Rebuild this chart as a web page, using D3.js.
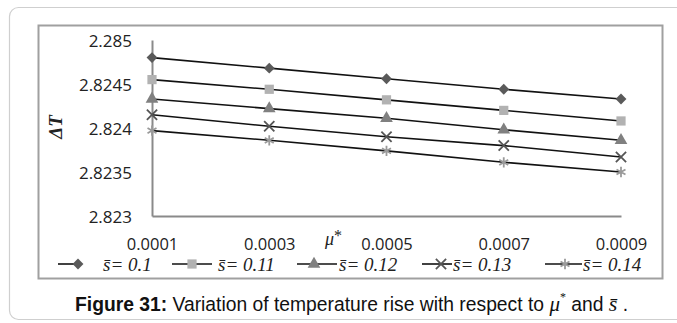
<!DOCTYPE html>
<html><head><meta charset="utf-8">
<script src="https://cdn.jsdelivr.net/npm/d3@7"></script>
<style>body{margin:0;background:#fff}svg{display:block}</style>
</head><body>
<svg id="c" width="677" height="323"></svg>
<script>
const categories = ["0.0001","0.0003","0.0005","0.0007","0.0009"];
const seriesNames = ["0.1","0.11","0.12","0.13","0.14"];
const s010 = [2.82480, 2.82468, 2.82456, 2.82444, 2.82433];
const s011 = [2.82455, 2.82444, 2.82432, 2.82420, 2.82408];
const s012 = [2.82433, 2.82422, 2.82411, 2.82398, 2.82386];
const s013 = [2.82415, 2.82402, 2.82390, 2.82380, 2.82367];
const s014 = [2.82397, 2.82386, 2.82374, 2.82361, 2.82350];
const yTicks = [2.823, 2.8235, 2.824, 2.8245, 2.825];
const yTickLabels = ["2.823","2.8235","2.824","2.8245","2.285"];

const seriesValues = [s010, s011, s012, s013, s014];
const markerStyles = [
  {type: d3.symbolDiamond2, size: 75, fill: "#5a5a5a", stroke: null},
  {type: d3.symbolSquare, size: 85, fill: "#b2b2b2", stroke: null},
  {type: d3.symbolTriangle, size: 70, fill: "#808080", stroke: null},
  {type: d3.symbolTimes, size: 70, fill: "none", stroke: "#555"},
  {type: d3.symbolAsterisk, size: 75, fill: "none", stroke: "#9a9a9a"}
];

const svg = d3.select("#c");
svg.append("rect").attr("x",9.5).attr("y",7.5).attr("width",720).attr("height",312)
  .attr("rx",9).attr("fill","none").attr("stroke","#cfcfcf").attr("stroke-width",1.2);
svg.append("rect").attr("x",38.5).attr("y",25.5).attr("width",624).attr("height",253)
  .attr("fill","#fff").attr("stroke","#a0a0a0").attr("stroke-width",2);

const x = d3.scalePoint().domain(categories).range([152, 621]);
const y = d3.scaleLinear().domain([2.823, 2.825]).range([216, 40]);

const yAxis = svg.append("g").attr("transform","translate(152,0)")
  .call(d3.axisLeft(y).tickValues(yTicks).tickFormat((d,i)=>yTickLabels[i]).tickSize(0).tickSizeOuter(0));
yAxis.select(".domain").attr("stroke","#8a8a8a").attr("stroke-width",2);
yAxis.selectAll("text").attr("x",-20).attr("dy","0.36em")
  .attr("font-family","'Open Sans', sans-serif").attr("font-size",17).attr("fill","#222");

const xAxis = svg.append("g").attr("transform","translate(0,216)")
  .call(d3.axisBottom(x).tickSize(0).tickSizeOuter(0));
xAxis.select(".domain").attr("stroke","#8a8a8a").attr("stroke-width",2);
xAxis.selectAll("text").attr("y",34).attr("dy",0)
  .attr("font-family","'Open Sans', sans-serif").attr("font-size",16.5).attr("fill","#222");

const line = d3.line().x((d,i)=>x(categories[i])).y(d=>y(d));
seriesValues.forEach((vals) => {
  svg.append("path").datum(vals).attr("d", line)
    .attr("fill","none").attr("stroke","#111").attr("stroke-width",1.6);
});
seriesValues.forEach((vals, k) => {
  const m = markerStyles[k];
  svg.append("g").selectAll("path").data(vals).join("path")
    .attr("transform",(d,i)=>`translate(${x(categories[i])},${y(d)})`)
    .attr("d", d3.symbol(m.type, m.size))
    .attr("fill", m.fill).attr("stroke", m.stroke).attr("stroke-width", m.stroke ? 1.8 : 0);
});

svg.append("text").attr("transform","translate(62,127) rotate(-90)").attr("text-anchor","middle")
  .attr("font-family","'Liberation Serif', serif").attr("font-style","italic").attr("font-weight","bold")
  .attr("font-size",19).attr("fill","#222").text("ΔT");
const mu = svg.append("text").attr("x",325).attr("y",245)
  .attr("font-family","'Liberation Serif', serif").attr("font-style","italic").attr("font-size",18).attr("fill","#222");
mu.append("tspan").text("μ");
mu.append("tspan").attr("dy",-4).attr("font-size",16).attr("font-style","normal").text("*");

const legendItems = [
  {x1:58, x2:82, mx:78, tx:103},
  {x1:172, x2:212, mx:192, tx:218},
  {x1:297, x2:337, mx:314, tx:339},
  {x1:422, x2:452, mx:441, tx:453},
  {x1:545, x2:582, mx:565, tx:583}
];
const ly = 264;
legendItems.forEach((it,k)=>{
  const m = markerStyles[k];
  svg.append("line").attr("x1",it.x1).attr("x2",it.x2).attr("y1",ly).attr("y2",ly)
    .attr("stroke","#111").attr("stroke-width",1.6);
  svg.append("path").attr("transform",`translate(${it.mx},${ly})`).attr("d",d3.symbol(m.type,m.size))
    .attr("fill",m.fill).attr("stroke",m.stroke).attr("stroke-width",m.stroke?1.8:0);
  svg.append("text").attr("x",it.tx).attr("y",ly+7)
    .attr("font-family","'Liberation Serif', serif").attr("font-style","italic").attr("font-size",19).attr("fill","#222")
    .text("s\u0304= " + seriesNames[k]);
});

const cap = svg.append("text").attr("x",75).attr("y",311)
  .attr("font-family","'Liberation Sans', Arial, sans-serif").attr("font-size",19.3).attr("fill","#111");
cap.append("tspan").attr("font-weight","bold").text("Figure 31:");
cap.append("tspan").text(" Variation of temperature rise with respect to ");
cap.append("tspan").attr("font-family","'Liberation Serif', serif").attr("font-style","italic").attr("font-size",21).text("μ");
cap.append("tspan").attr("font-family","'Liberation Serif', serif").attr("font-size",12).attr("dy",-10).text("*");
cap.append("tspan").attr("dy",10).text(" and ");
cap.append("tspan").attr("font-family","'Liberation Serif', serif").attr("font-style","italic").attr("font-size",22).text("s\u0304");
cap.append("tspan").text(" .");
</script>
</body></html>
